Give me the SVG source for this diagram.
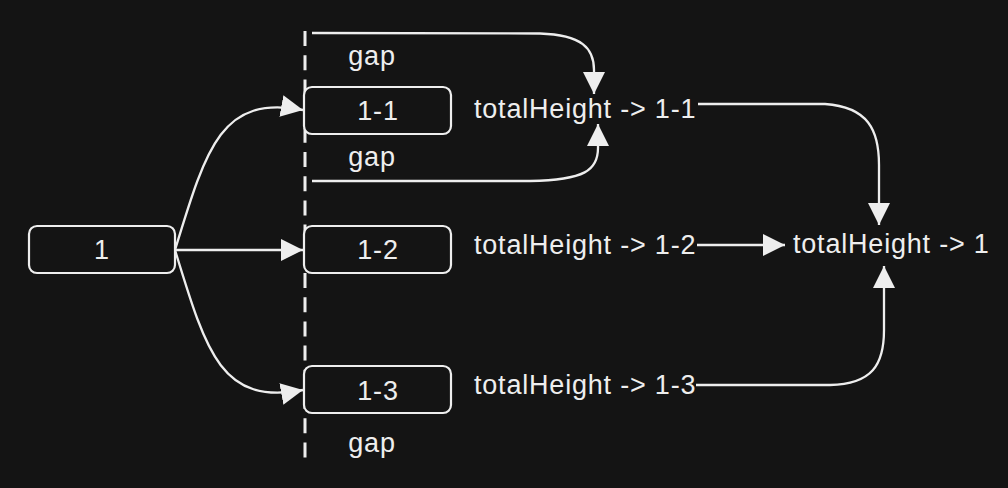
<svg xmlns="http://www.w3.org/2000/svg" width="1008" height="488" viewBox="0 0 1008 488">
  <style>
    .bg { fill: #141414; }
    .box { fill: #141414; stroke: #eeeeee; stroke-width: 2.2; }
    .t { font-family: "Liberation Sans", Arial, sans-serif; font-size: 27px; fill: #eeeeee; letter-spacing: 0.8px; }
    .c { text-anchor: middle; }
    .edge { fill: none; stroke: #eeeeee; stroke-width: 2.3; }
    .dash { fill: none; stroke: #eeeeee; stroke-width: 3; stroke-dasharray: 15 9.2; }
  </style>
  <defs>
    <marker id="arrow" markerUnits="userSpaceOnUse" markerWidth="26" markerHeight="26" refX="22" refY="11" orient="auto">
      <path d="M0,0 L22,11 L0,22 Z" fill="#eeeeee"/>
    </marker>
  </defs>
  <rect class="bg" x="0" y="0" width="1008" height="488"/>

  <g id="divider">
    <line class="dash" x1="305" y1="31" x2="305" y2="458"/>
  </g>

  <g id="connectors">
    <path class="edge" d="M175,250 C207,145 222,95 303,110" marker-end="url(#arrow)"/>
    <path class="edge" d="M175,250 L303,250" marker-end="url(#arrow)"/>
    <path class="edge" d="M175,250 C207,355 222,405 303,390" marker-end="url(#arrow)"/>
    <path class="edge" d="M312,33 L540,33.5 C582,35 594,48 594,70 L594,94" marker-end="url(#arrow)"/>
    <path class="edge" d="M312,181 L530,181 C585,180 598,170 598,148 L598,124" marker-end="url(#arrow)"/>
    <path class="edge" d="M698,104 L825,104 C868,107 879,130 879,165 L879,225" marker-end="url(#arrow)"/>
    <path class="edge" d="M697,245 L785,245" marker-end="url(#arrow)"/>
    <path class="edge" d="M696,385 L830,385 C872,384 884,365 884,330 L884,266" marker-end="url(#arrow)"/>
  </g>

  <g id="node-1">
    <rect class="box" x="29" y="226" width="146" height="47" rx="8"/>
    <text class="t c" x="102" y="259">1</text>
  </g>
  <g id="node-1-1">
    <rect class="box" x="304" y="87" width="147" height="47" rx="8"/>
    <text class="t c" x="378" y="120">1-1</text>
  </g>
  <g id="node-1-2">
    <rect class="box" x="304" y="226" width="147" height="47" rx="8"/>
    <text class="t c" x="378" y="259">1-2</text>
  </g>
  <g id="node-1-3">
    <rect class="box" x="304" y="366" width="147" height="47" rx="8"/>
    <text class="t c" x="378" y="400">1-3</text>
  </g>

  <g id="gap-top"><text class="t c" x="372" y="65">gap</text></g>
  <g id="gap-mid"><text class="t c" x="372" y="166">gap</text></g>
  <g id="gap-bottom"><text class="t c" x="372" y="452">gap</text></g>

  <g id="total-1-1"><text class="t" x="474" y="118">totalHeight -&gt; 1-1</text></g>
  <g id="total-1-2"><text class="t" x="474" y="254">totalHeight -&gt; 1-2</text></g>
  <g id="total-1-3"><text class="t" x="474" y="394">totalHeight -&gt; 1-3</text></g>
  <g id="total-1"><text class="t" x="793" y="253">totalHeight -&gt; 1</text></g>
</svg>
